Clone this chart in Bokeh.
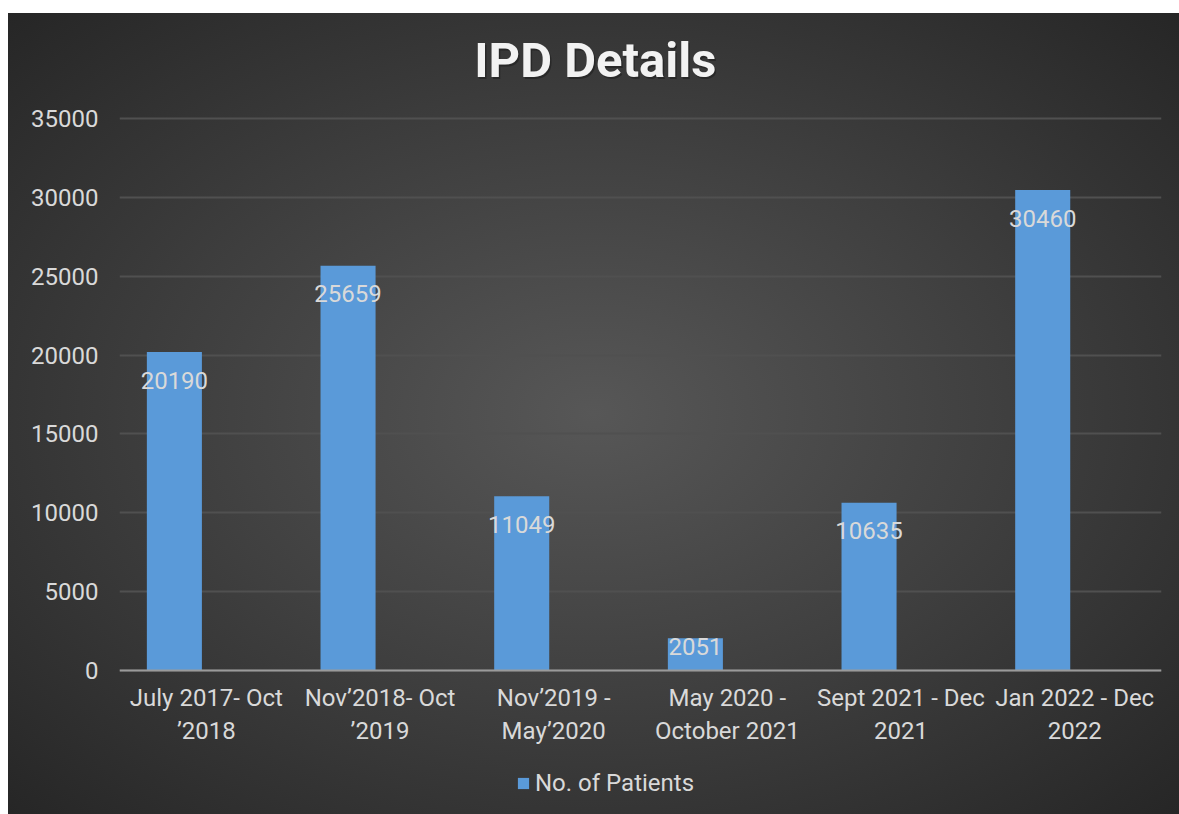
from bokeh.plotting import figure
from bokeh.models import (ColumnDataSource, FactorRange, Range1d, Legend, LegendItem, Spacer,
                          FixedTicker, Label)
from bokeh.layouts import column, row
from bokeh.transform import dodge
from bokeh.embed import file_html
from bokeh.resources import INLINE

title_text = "IPD Details"
categories = ["July 2017- Oct\n\u20192018",
              "Nov\u20192018- Oct\n\u20192019",
              "Nov\u20192019 -\nMay\u20192020",
              "May 2020 -\nOctober 2021",
              "Sept 2021 - Dec\n2021",
              "Jan 2022 - Dec\n2022"]
patients = [20190, 25659, 11049, 2051, 10635, 30460]
y_ticks = [0, 5000, 10000, 15000, 20000, 25000, 30000, 35000]
series_name = "No. of Patients"

FONT = "Roboto"
TXT = "#d9d9d9"
BAR = "#5a9ad9"

labels = [str(v) for v in patients]
offsets = [28 if v > 4000 else 8 for v in patients]
src = ColumnDataSource(dict(cat=categories, val=patients, lab=labels, off=offsets))

p = figure(x_range=FactorRange(*categories, range_padding=0),
           y_range=Range1d(-9130, 41658),
           width=1171, height=801,
           output_backend="svg", toolbar_location=None,
           min_border_left=111, min_border_right=18,
           min_border_top=0, min_border_bottom=0)

p.background_fill_alpha = 0
p.border_fill_alpha = 0
p.outline_line_color = None
p.styles = {"background": "radial-gradient(ellipse farthest-corner at 50% 50%, #575757 0%, #3f3f3f 50%, #262626 100%)"}

# chart title (drawn inside the canvas, centred over the whole chart)
p.add_layout(Label(x=2.74, y=38668, text=title_text, text_align="center",
                   text_baseline="alphabetic", text_font=FONT, text_font_size="49px",
                   text_font_style="bold", text_color="#1e1e1e", text_alpha=0.6,
                   x_offset=1.5, y_offset=-1.5))
p.add_layout(Label(x=2.74, y=38668, text=title_text, text_align="center",
                   text_baseline="alphabetic", text_font=FONT, text_font_size="49px",
                   text_font_style="bold", text_color="#f2f2f2"))

r = p.vbar(x=dodge("cat", -0.184, range=p.x_range), top="val", width=0.317,
           source=src, fill_color=BAR, line_color=None)

p.text(x=dodge("cat", -0.184, range=p.x_range), y="val", text="lab", y_offset="off",
       source=src, text_align="center", text_baseline="middle",
       text_font={"value": FONT}, text_font_size="24px", text_color=TXT)

p.xgrid.grid_line_color = None
p.ygrid.ticker = FixedTicker(ticks=y_ticks)
p.ygrid.grid_line_color = "#505050"
p.ygrid.grid_line_width = 2

p.yaxis.ticker = FixedTicker(ticks=y_ticks)
p.yaxis.axis_line_color = None
p.yaxis.major_tick_line_color = None
p.yaxis.minor_tick_line_color = None
p.yaxis.major_label_text_font = FONT
p.yaxis.major_label_text_font_size = "24px"
p.yaxis.major_label_text_color = TXT
p.yaxis.major_label_standoff = 15

p.xaxis.fixed_location = 0
p.xaxis.axis_line_color = "#9a9a9a"
p.xaxis.axis_line_width = 2
p.xaxis.major_tick_line_color = None
p.xaxis.minor_tick_line_color = None
p.xaxis.major_label_text_font = FONT
p.xaxis.major_label_text_font_size = "24px"
p.xaxis.major_label_text_color = TXT
p.xaxis.major_label_standoff = 7

legend = Legend(items=[LegendItem(label=series_name, renderers=[r])],
                location=(397, 17), orientation="horizontal",
                glyph_width=14, glyph_height=14, label_standoff=5,
                padding=0, margin=0, border_line_color=None,
                background_fill_alpha=0,
                label_text_font=FONT, label_text_font_size="24px",
                label_text_color=TXT)
p.add_layout(legend, "center")

layout = column(Spacer(height=13), row(Spacer(width=8), p))
open("out.html", "w").write(file_html(layout, INLINE))
